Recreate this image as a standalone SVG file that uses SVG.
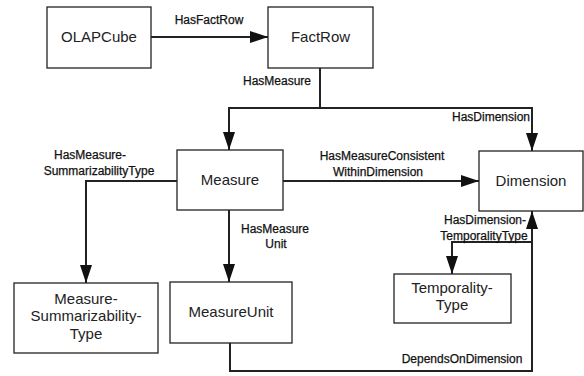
<svg xmlns="http://www.w3.org/2000/svg" width="584" height="376" viewBox="0 0 584 376">
<style>
.box{fill:#fff;stroke:#222;stroke-width:1.3}
.nl{font-family:"Liberation Sans",Arial,sans-serif;font-size:15px;fill:#222;text-anchor:middle}
.el{font-family:"Liberation Sans",Arial,sans-serif;font-size:12px;fill:#111;text-anchor:middle;stroke:#111;stroke-width:0.25}
.c{fill:none;stroke:#222;stroke-width:2}
</style>
<defs>
<marker id="ah" viewBox="0 0 18 12" refX="18" refY="6" markerWidth="18" markerHeight="12" markerUnits="userSpaceOnUse" orient="auto">
<path d="M0,0 L18,6 L0,12 z" fill="#111"/>
</marker>
</defs>
<rect width="584" height="376" fill="#fff"/>
<g id="connectors">
<path class="c" d="M151,37 H268" marker-end="url(#ah)"/>
<path class="c" d="M320,68 V108 H229 V150" marker-end="url(#ah)"/>
<path class="c" d="M320,108 H532 V151" marker-end="url(#ah)"/>
<path class="c" d="M283,181 H479" marker-end="url(#ah)"/>
<path class="c" d="M177,181 H86 V283" marker-end="url(#ah)"/>
<path class="c" d="M229,210 V282" marker-end="url(#ah)"/>
<path class="c" d="M230,343 V371 H532 V211" marker-end="url(#ah)"/>
<path class="c" d="M532,230 V242 H452 V274" marker-end="url(#ah)"/>
<text class="el" x="209" y="24">HasFactRow</text>
<text class="el" x="277" y="85">HasMeasure</text>
<text class="el" x="491" y="121">HasDimension</text>
<text class="el" x="382" y="160">HasMeasureConsistent</text>
<text class="el" x="378" y="176">WithinDimension</text>
<text class="el" x="90" y="159">HasMeasure-</text>
<text class="el" x="99" y="175">SummarizabilityType</text>
<text class="el" x="275" y="233">HasMeasure</text>
<text class="el" x="276" y="248">Unit</text>
<text class="el" x="485" y="224">HasDimension-</text>
<text class="el" x="484" y="240">TemporalityType</text>
<text class="el" x="462" y="363">DependsOnDimension</text>
</g>
<g id="OLAPCube">
<rect class="box" x="47" y="7" width="104" height="61"/>
<text class="nl" x="99" y="42">OLAPCube</text>
</g>
<g id="FactRow">
<rect class="box" x="268" y="7" width="105" height="61"/>
<text class="nl" x="320.5" y="42">FactRow</text>
</g>
<g id="Measure">
<rect class="box" x="177" y="150" width="106" height="60"/>
<text class="nl" x="230" y="185">Measure</text>
</g>
<g id="Dimension">
<rect class="box" x="479" y="151" width="104" height="60"/>
<text class="nl" x="531" y="186">Dimension</text>
</g>
<g id="MeasureSummarizabilityType">
<rect class="box" x="14" y="283" width="144" height="70"/>
<text class="nl" x="86" y="304">Measure-</text>
<text class="nl" x="86" y="321">Summarizability-</text>
<text class="nl" x="86" y="339">Type</text>
</g>
<g id="MeasureUnit">
<rect class="box" x="170" y="282" width="122" height="61"/>
<text class="nl" x="231" y="317">MeasureUnit</text>
</g>
<g id="TemporalityType">
<rect class="box" x="394" y="274" width="117" height="49"/>
<text class="nl" x="452" y="293">Temporality-</text>
<text class="nl" x="452" y="310">Type</text>
</g>
</svg>
